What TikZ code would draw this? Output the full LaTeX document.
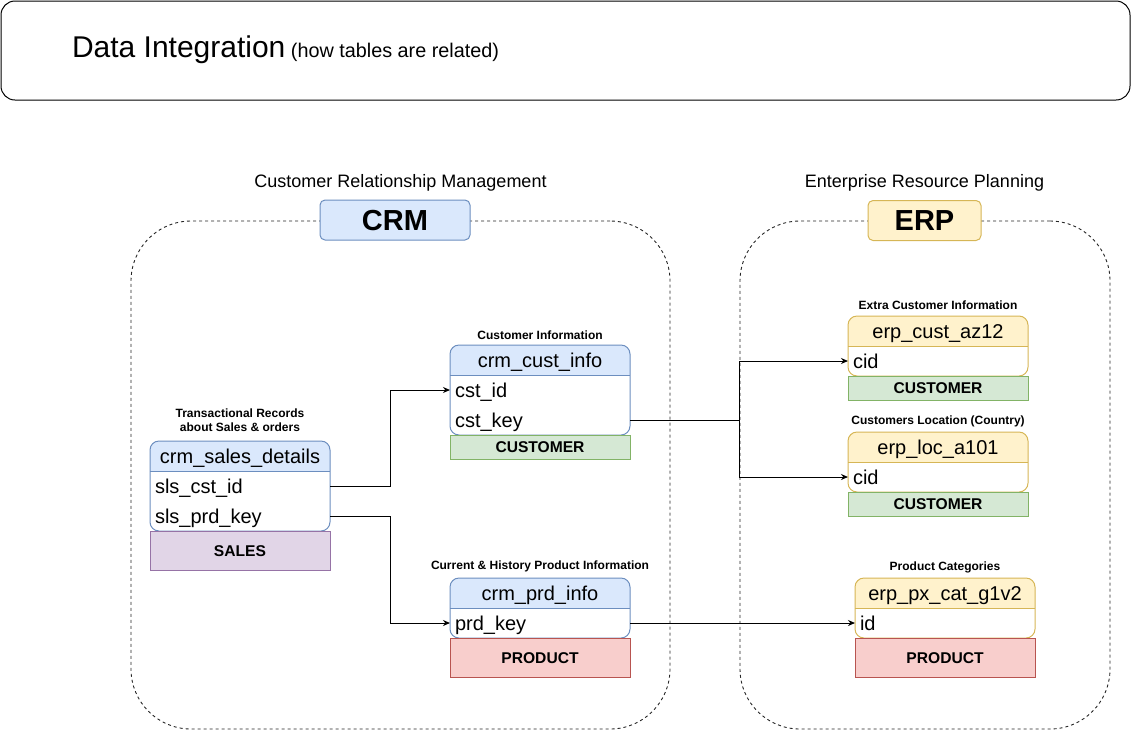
\documentclass[tikz,border=0pt]{standalone}
\usepackage{fontspec}
\setmainfont{Liberation Sans}
\usetikzlibrary{arrows.meta,backgrounds}
\definecolor{crmfill}{HTML}{DAE8FC}
\definecolor{crmline}{HTML}{6C8EBF}
\definecolor{erpfill}{HTML}{FFF2CC}
\definecolor{erpline}{HTML}{D6B656}
\definecolor{custfill}{HTML}{D5E8D4}
\definecolor{custline}{HTML}{82B366}
\definecolor{salefill}{HTML}{E1D5E7}
\definecolor{saleline}{HTML}{9673A6}
\definecolor{prodfill}{HTML}{F8CECC}
\definecolor{prodline}{HTML}{B85450}
\begin{document}
\begin{tikzpicture}
  [x=1pt,y=-1pt,line width=1pt,every node/.style={outer sep=0pt,text depth=0pt}]
  \tikzstyle{head} = [minimum width=180,minimum height=30,text height=14.4pt,font=\fontsize{20}{24}\selectfont]
  \tikzstyle{row} = [minimum height=30,text width=170,inner xsep=5,align=left,text height=14.4pt,font=\fontsize{20}{24}\selectfont]
  \tikzstyle{tag} = [draw,minimum width=180,text height=11.2pt,font=\bfseries\fontsize{15.6}{18}\selectfont]
  \tikzstyle{note} = [text height=8.6pt,font=\bfseries\fontsize{12}{14.6}\selectfont]
  \tikzstyle{group} = [draw=black!85,line width=.9pt,dash pattern=on 3pt off 3pt,rounded corners=60]
  \tikzstyle{sys} = [rounded corners=5,minimum height=40,text height=20.9pt,font=\bfseries\fontsize{29}{34}\selectfont]
  \tikzstyle{systitle} = [text height=13pt,font=\fontsize{18}{22}\selectfont]
  \tikzstyle{link} = [-{Stealth[length=7pt,width=6pt]}]
  \useasboundingbox (0,0) rectangle (1132,732);

  % headline
  \node[draw,rounded corners=14,minimum width=1129,minimum height=99] (frame) at (565.5,50.5) {};
  \node[anchor=base west,inner sep=0] (title) at (72,57)
    {\fontsize{30}{36}\selectfont Data Integration{\fontsize{19.8}{23}\selectfont{} (how tables are related)}};

  % source systems
  \node[group,minimum width=539,minimum height=508] (crmgroup) at (400.5,475) {};
  \node[group,minimum width=370,minimum height=508] (erpgroup) at (925,475) {};
  \node[sys,draw=crmline,fill=crmfill,minimum width=150] (crm) at (395,220) {CRM};
  \node[sys,draw=erpline,fill=erpfill,minimum width=113] (erp) at (924.5,220.5) {ERP};
  \node[systitle] (crmtitle) at (400.5,181) {Customer Relationship Management};
  \node[systitle] (erptitle) at (924.5,181) {Enterprise Resource Planning};

  % crm tables
  \node[head] (sales) at (240,456) {crm\_sales\_details};
  \node[row] (scid) at (240,486) {sls\_cst\_id};
  \node[row] (spk) at (240,516) {sls\_prd\_key};
  \node[text depth=,font=\bfseries\fontsize{12}{14.6}\selectfont,align=center] (salesnote) at (240,420) {Transactional Records\\about Sales \& orders};

  \node[head] (cust) at (540,360) {crm\_cust\_info};
  \node[row] (cid) at (540,390) {cst\_id};
  \node[row] (ckey) at (540,420) {cst\_key};
  \node[note] (custnote) at (540,335) {Customer Information};

  \node[head] (prd) at (540,593) {crm\_prd\_info};
  \node[row] (pkey) at (540,623) {prd\_key};
  \node[note] (prdnote) at (540,565) {Current \& History Product Information};

  % erp tables
  \node[head] (az) at (938,331) {erp\_cust\_az12};
  \node[row] (acid) at (938,361) {cid};
  \node[note] (aznote) at (938,305) {Extra Customer Information};

  \node[head] (loc) at (938,447) {erp\_loc\_a101};
  \node[row] (lcid) at (938,477) {cid};
  \node[note] (locnote) at (938,420) {Customers Location (Country)};

  \node[head] (pxcat) at (945,593) {erp\_px\_cat\_g1v2};
  \node[row] (gid) at (945,623) {id};
  \node[note] (pxnote) at (945,566) {Product Categories};

  \begin{scope}[on background layer]
  \foreach \h/\c in {sales/crmfill,cust/crmfill,prd/crmfill,az/erpfill,loc/erpfill,pxcat/erpfill}
    \fill[\c,rounded corners=9] (\h.south west) |- (\h.north) -| (\h.south east);
  \end{scope}
  \foreach \h/\r/\c in {sales/spk/crmline,cust/ckey/crmline,prd/pkey/crmline,az/acid/erpline,loc/lcid/erpline,pxcat/gid/erpline}{
    \draw[\c,rounded corners=9] (\h.north west) rectangle (\r.south east);
    \draw[\c] (\h.south west) -- (\h.south east);
  }

  % business objects
  \node[tag,fill=salefill,draw=saleline,minimum height=39] (salestag) at (240,550.5) {SALES};
  \node[tag,fill=custfill,draw=custline,minimum height=24.5] (custtag) at (540,447.25) {CUSTOMER};
  \node[tag,fill=prodfill,draw=prodline,minimum height=39] (prdtag) at (540,657.5) {PRODUCT};
  \node[tag,fill=custfill,draw=custline,minimum height=24.5] (aztag) at (938,388.25) {CUSTOMER};
  \node[tag,fill=custfill,draw=custline,minimum height=24.5] (loctag) at (938,504.25) {CUSTOMER};
  \node[tag,fill=prodfill,draw=prodline,minimum height=39] (pxtag) at (945,657.5) {PRODUCT};

  % relations
  \draw[link] (scid.east) -- ++(60,0) |- (cid.west);
  \draw[link] (spk.east) -- ++(60,0) |- (pkey.west);
  \coordinate (erpbus) at (739,420);
  \draw (ckey.east) -- (erpbus);
  \draw[link] (erpbus) |- (acid.west);
  \draw[link] (erpbus) |- (lcid.west);
  \draw[link] (pkey.east) -- (gid.west);
\end{tikzpicture}
\end{document}
